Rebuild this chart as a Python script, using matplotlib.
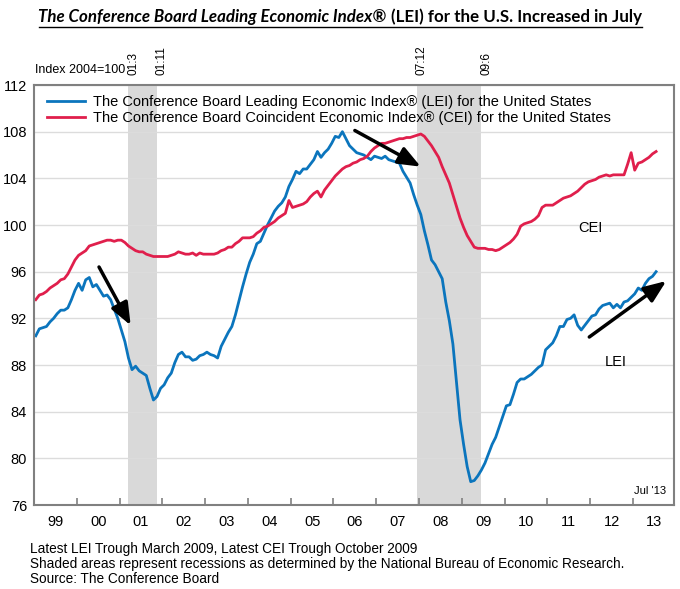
import matplotlib
matplotlib.use('Agg')
import matplotlib.pyplot as plt
from matplotlib.lines import Line2D
import numpy as np

plt.rcParams['font.family'] = ['Liberation Sans', 'DejaVu Sans']

# monthly index values, Jan 1999 .. Jul 2013 (2004=100)
lei = [90.5, 91.1, 91.2, 91.3, 91.7, 92.0, 92.4, 92.7, 92.7, 92.9, 93.6, 94.4,
       95.0, 94.4, 95.3, 95.5, 94.7, 94.9, 94.4, 93.9, 94.0, 93.6, 92.8, 92.0,
       91.0, 90.0, 88.6, 87.6, 87.9, 87.5, 87.3, 87.1, 86.0, 85.0, 85.3, 86.0,
       86.3, 86.9, 87.3, 88.2, 88.9, 89.1, 88.7, 88.7, 88.4, 88.5, 88.8, 88.9,
       89.1, 88.9, 88.8, 88.6, 89.6, 90.2, 90.8, 91.3, 92.3, 93.5, 94.7, 95.8,
       96.8, 97.5, 98.4, 98.6, 99.3, 100.0, 100.6, 101.2, 101.6, 101.9, 102.4, 103.3,
       103.9, 104.6, 104.4, 104.8, 104.8, 105.2, 105.6, 106.3, 105.8, 106.2, 106.5, 107.0,
       107.6, 107.5, 108.0, 107.4, 106.8, 106.5, 106.2, 106.1, 106.0, 105.8, 105.6, 105.9,
       105.8, 105.7, 105.9, 105.6, 105.5, 105.4, 105.3, 104.6, 104.1, 103.6, 102.6, 101.7,
       100.9, 99.5, 98.3, 97.0, 96.6, 96.0, 95.4, 93.4, 91.8, 89.8, 86.6, 83.3,
       81.2, 79.3, 78.0, 78.1, 78.5, 79.0, 79.6, 80.4, 81.2, 81.8, 82.7, 83.6,
       84.5, 84.6, 85.5, 86.5, 86.8, 86.8, 87.0, 87.2, 87.5, 87.8, 88.0, 89.3,
       89.6, 89.9, 90.5, 91.3, 91.3, 91.9, 92.0, 92.3, 91.4, 91.0, 91.4, 91.8,
       92.2, 92.3, 92.8, 93.1, 93.2, 93.3, 92.9, 93.2, 92.9, 93.4, 93.5, 93.8,
       94.1, 94.6, 94.4, 95.0, 95.4, 95.6, 96.0]

cei = [93.6, 94.0, 94.1, 94.3, 94.6, 94.8, 95.0, 95.3, 95.4, 95.8, 96.4, 97.0,
       97.4, 97.6, 97.8, 98.2, 98.3, 98.4, 98.5, 98.6, 98.7, 98.7, 98.6, 98.7,
       98.7, 98.5, 98.2, 98.0, 97.8, 97.7, 97.7, 97.5, 97.4, 97.3, 97.3, 97.3,
       97.3, 97.3, 97.4, 97.5, 97.7, 97.6, 97.5, 97.5, 97.6, 97.4, 97.6, 97.5,
       97.5, 97.5, 97.5, 97.6, 97.8, 97.9, 98.1, 98.1, 98.4, 98.6, 98.9, 98.9,
       98.9, 99.0, 99.3, 99.5, 99.8, 99.9, 100.1, 100.3, 100.6, 100.8, 101.0, 102.1,
       101.5, 101.6, 101.7, 101.8, 102.0, 102.4, 102.7, 102.9, 102.4, 103.0, 103.4, 103.8,
       104.2, 104.5, 104.8, 105.0, 105.1, 105.3, 105.4, 105.6, 105.7, 105.9, 106.3, 106.6,
       106.8, 107.0, 107.0, 107.1, 107.2, 107.3, 107.4, 107.4, 107.5, 107.5, 107.6, 107.7,
       107.8, 107.6, 107.2, 106.8, 106.3, 105.8, 105.0, 104.3, 103.6, 102.6, 101.6, 100.6,
       99.8, 99.1, 98.6, 98.1, 98.0, 98.0, 98.0, 97.9, 97.9, 97.8, 97.9, 98.1,
       98.3, 98.5, 98.8, 99.2, 99.9, 100.1, 100.2, 100.3, 100.5, 100.8, 101.5, 101.7,
       101.7, 101.7, 101.9, 102.1, 102.3, 102.4, 102.5, 102.7, 102.9, 103.2, 103.5, 103.7,
       103.8, 103.9, 104.1, 104.2, 104.3, 104.2, 104.3, 104.3, 104.3, 104.3, 105.2, 106.2,
       104.7, 105.3, 105.4, 105.6, 105.8, 106.1, 106.3]

first_year = 1999
year_labels = ['99', '00', '01', '02', '03', '04', '05', '06', '07', '08',
               '09', '10', '11', '12', '13']
# recessions (peak, trough) as (year, month)
recessions = [((2001, 3), (2001, 11)), ((2007, 12), (2009, 6))]
rec_labels = ['01:3', '01:11', '07:12', '09:6']

lei_color = '#0b75bd'
cei_color = '#e01f4c'


def mid(y, m):
    return y + (m - 0.5) / 12.0


x = np.array([mid(first_year + i // 12, i % 12 + 1) for i in range(len(lei))])

fig = plt.figure(figsize=(6.8, 5.89), dpi=100)
ax = fig.add_axes([34 / 680, 1 - 505 / 589, 640 / 680, 420 / 589])

for (p, t) in recessions:
    ax.axvspan(mid(*p), mid(*t), color='#d9d9d9', lw=0, zorder=0)

ax.plot(x, lei, color=lei_color, lw=2,
        label='The Conference Board Leading Economic Index\u00ae (LEI) for the United States')
ax.plot(x, cei, color=cei_color, lw=2,
        label='The Conference Board Coincident Economic Index\u00ae (CEI) for the United States')

ax.set_xlim(1999.0, 2013.96)
ax.set_ylim(76, 112)
ax.set_yticks(np.arange(76, 113, 4))
ax.yaxis.grid(True, color='#dcdcdc', lw=1)
ax.set_axisbelow(True)
ax.tick_params(axis='y', length=0, labelsize=10.5, pad=5)

ax.set_xticks(np.arange(2000, 2014))
ax.set_xticklabels([])
ax.set_xticks(np.arange(first_year, first_year + len(year_labels)) + 0.5, minor=True)
ax.set_xticklabels(year_labels, minor=True)
ax.tick_params(axis='x', which='major', direction='in', length=5, width=1.2, color='#808080')
ax.tick_params(axis='x', which='minor', length=0, labelsize=10.5, pad=7)

for s in ax.spines.values():
    s.set_color('#808080')
    s.set_linewidth(1.5)

leg = ax.legend(loc='upper left', bbox_to_anchor=(0.005, 1.0), frameon=False,
                fontsize=10.5, handlelength=2.6, handletextpad=0.5,
                labelspacing=0.15, borderaxespad=0.3)

arrow = dict(arrowstyle='-|>,head_width=0.3,head_length=0.75', lw=2.5,
             color='black', mutation_scale=18, shrinkA=0, shrinkB=0)
ax.annotate('', xy=(2001.26, 91.4), xytext=(2000.52, 96.4), arrowprops=arrow)
ax.annotate('', xy=(2008.04, 105.0), xytext=(2006.50, 108.1), arrowprops=arrow)
ax.annotate('', xy=(2013.78, 95.2), xytext=(2011.98, 90.4), arrowprops=arrow)

ax.text(2012.0, 99.7, 'CEI', fontsize=10.5, ha='center', va='center')
ax.text(2012.6, 88.3, 'LEI', fontsize=10.5, ha='center', va='center')
ax.text(2013.4, 77.2, "Jul '13", fontsize=8, ha='center', va='center')

# recession dates above the frame
edges = [mid(*recessions[0][0]), mid(*recessions[0][1]),
         mid(*recessions[1][0]), mid(*recessions[1][1])]
for e, lab in zip(edges, rec_labels):
    ax.annotate(lab, xy=(e, 1.0), xycoords=('data', 'axes fraction'),
                xytext=(-1, 7), textcoords='offset points', rotation=90,
                ha='left', va='bottom', fontsize=8.5)

fig.text(35 / 680, 1 - 70 / 589, 'Index 2004=100', fontsize=9, ha='left', va='center')

# title: italic part + upright part, underlined
fig.canvas.draw()
r = fig.canvas.get_renderer()
t1 = fig.text(0, 1 - 17 / 589, 'The Conference Board Leading Economic Index\u00ae ',
              fontsize=12.2, weight='bold', style='italic', family=['Lato', 'DejaVu Sans'],
              va='center')
t2 = fig.text(0, 1 - 17 / 589, '(LEI) for the U.S. Increased in July',
              fontsize=12.2, weight='bold', family=['Lato', 'DejaVu Sans'], va='center')
w1 = t1.get_window_extent(r).width
w2 = t2.get_window_extent(r).width
x0 = (340 - (w1 + w2) / 2) / 680
t1.set_x(x0)
t2.set_x(x0 + w1 / 680)
fig.add_artist(Line2D([x0, x0 + (w1 + w2) / 680], [1 - 27 / 589] * 2,
                      transform=fig.transFigure, color='black', lw=1))

notes = ['Latest LEI Trough March 2009, Latest CEI Trough October 2009',
         'Shaded areas represent recessions as determined by the National Bureau of Economic Research.',
         'Source: The Conference Board']
for i, n in enumerate(notes):
    fig.text(30 / 680, 1 - (549 + 15 * i) / 589, n, fontsize=9.8, ha='left', va='center')

fig.savefig('out.png', dpi=100)
